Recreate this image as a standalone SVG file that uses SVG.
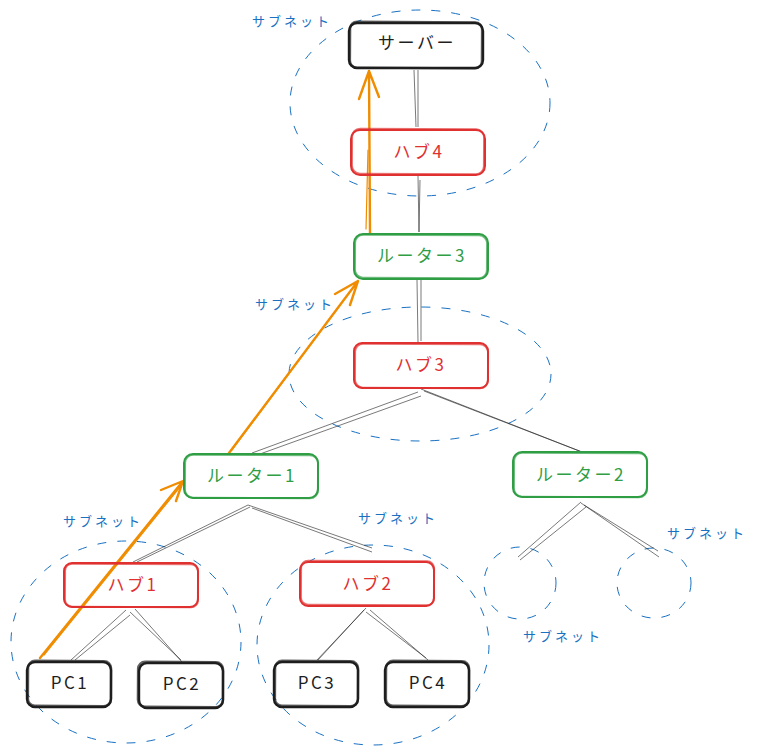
<svg xmlns="http://www.w3.org/2000/svg" width="762" height="756" viewBox="0 0 762 756">
<style>
text{font-family:"Noto Sans CJK JP","Noto Sans",sans-serif;text-anchor:middle}
.n{font-size:17px;letter-spacing:2.5px;font-weight:400}
.s{font-size:13px;letter-spacing:3px;fill:#1971c2;text-anchor:start}
.b{fill:none;stroke-linejoin:round;stroke-linecap:round}
.t{transform-box:fill-box;transform-origin:center;transform:rotate(.35deg);stroke-opacity:.7}
.k{stroke:#1e1e1e;stroke-width:2.4}.kt{fill:#1e1e1e}
.r{stroke:#e03131;stroke-width:2}.rt{fill:#e03131}
.g{stroke:#2f9e44;stroke-width:2}.gt{fill:#2f9e44}
.e{fill:none;stroke:#1971c2;stroke-width:1;stroke-dasharray:9 11}
.c{fill:none;stroke:#1e1e1e;stroke-width:.8;stroke-opacity:.75}
.o{fill:none;stroke:#f08c00;stroke-width:2.4;stroke-linecap:round;stroke-linejoin:round}
.o2{fill:none;stroke:#f08c00;stroke-width:1.2;stroke-linecap:round}
</style>
<g id="subnets">
<ellipse class="e" cx="420" cy="103" rx="130" ry="93"/>
<ellipse class="e" cx="420" cy="374" rx="131" ry="67"/>
<ellipse class="e" cx="126" cy="642" rx="115" ry="101"/>
<ellipse class="e" cx="373" cy="645" rx="116" ry="100"/>
<ellipse class="e" cx="520" cy="583" rx="36" ry="36"/>
<ellipse class="e" cx="654" cy="583" rx="37" ry="35"/>
</g>
<g id="connectors">
<path class="c" d="M414 70L416 127M418 70L418 127"/>
<path class="c" d="M418 176L419 232M420 180L419 232"/>
<path class="c" d="M417 280L418 342M421 280L421 341"/>
<path class="c" d="M418 392L252 453M421 396L260 454"/>
<path class="c" d="M421 389L582 452M424 391L582 452"/>
<path class="c" d="M248 505L133 562M250 507L137 562"/>
<path class="c" d="M248 505L372 548M252 508L372 552"/>
<path class="c" d="M126 610L71 660M130 615L75 660"/>
<path class="c" d="M135 609L182 662M130 612L181 660"/>
<path class="c" d="M366 608L317 660M364 610L318 660"/>
<path class="c" d="M370 610L428 660M366 612L426 658"/>
<path class="c" d="M581 502L518 557M586 507L520 560"/>
<path class="c" d="M581 503L659 557M584 505L658 551"/>
<g id="route">
<path class="o" d="M40 658L183 481M161 490L183 481L176 501"/>
<path class="o2" d="M44 655L180 487"/>
<path class="o" d="M229 453L358 281M335 294L358 281L350 305"/>
<path class="o2" d="M232 450L355 285"/>
<path class="o" d="M370 233L369 71M359 99L369 71L379 97"/>
<path class="o2" d="M366 229L368 150"/>
</g>
</g>
<g id="server"><rect class="b k" x="349" y="23" width="134" height="45" rx="8"/><rect class="b k t" x="350" y="22" width="132" height="46" rx="7"/><text class="n kt" x="417" y="49">サーバー</text></g>
<g id="hub4"><rect class="b r" x="351" y="130" width="134" height="45" rx="9"/><rect class="b r t" x="352" y="129" width="132" height="45" rx="8"/><text class="n rt" x="419" y="158">ハブ4</text></g>
<g id="router3"><rect class="b g" x="354" y="234" width="134" height="45" rx="9"/><rect class="b g t" x="355" y="235" width="132" height="43" rx="8"/><text class="n gt" x="422" y="262">ルーター3</text></g>
<g id="hub3"><rect class="b r" x="354" y="343" width="134" height="45" rx="8"/><rect class="b r t" x="355" y="344" width="133" height="44" rx="8"/><text class="n rt" x="421" y="371">ハブ3</text></g>
<g id="router1"><rect class="b g" x="184" y="454" width="134" height="44" rx="9"/><rect class="b g t" x="185" y="455" width="133" height="43" rx="8"/><text class="n gt" x="252" y="482">ルーター1</text></g>
<g id="router2"><rect class="b g" x="513" y="452" width="134" height="45" rx="9"/><rect class="b g t" x="514" y="453" width="133" height="44" rx="8"/><text class="n gt" x="581" y="481">ルーター2</text></g>
<g id="hub1"><rect class="b r" x="64" y="563" width="134" height="44" rx="8"/><rect class="b r t" x="65" y="564" width="133" height="43" rx="7"/><text class="n rt" x="133" y="591">ハブ1</text></g>
<g id="hub2"><rect class="b r" x="300" y="562" width="134" height="44" rx="8"/><rect class="b r t" x="301" y="561" width="133" height="44" rx="7"/><text class="n rt" x="368" y="590">ハブ2</text></g>
<g id="pc1"><rect class="b k" x="27" y="662" width="84" height="45" rx="8"/><rect class="b k t" x="28" y="661" width="83" height="45" rx="7"/><text class="n kt" x="70" y="689">PC1</text></g>
<g id="pc2"><rect class="b k" x="139" y="663" width="84" height="45" rx="8"/><rect class="b k t" x="138" y="662" width="85" height="45" rx="7"/><text class="n kt" x="182" y="690">PC2</text></g>
<g id="pc3"><rect class="b k" x="274" y="662" width="84" height="45" rx="8"/><rect class="b k t" x="275" y="661" width="83" height="45" rx="7"/><text class="n kt" x="317" y="689">PC3</text></g>
<g id="pc4"><rect class="b k" x="385" y="662" width="84" height="45" rx="8"/><rect class="b k t" x="386" y="661" width="83" height="45" rx="7"/><text class="n kt" x="428" y="689">PC4</text></g>
<g id="labels">
<text class="s" x="252" y="26">サブネット</text>
<text class="s" x="255" y="309">サブネット</text>
<text class="s" x="63" y="526">サブネット</text>
<text class="s" x="358" y="523">サブネット</text>
<text class="s" x="667" y="538">サブネット</text>
<text class="s" x="523" y="641">サブネット</text>
</g>
</svg>
